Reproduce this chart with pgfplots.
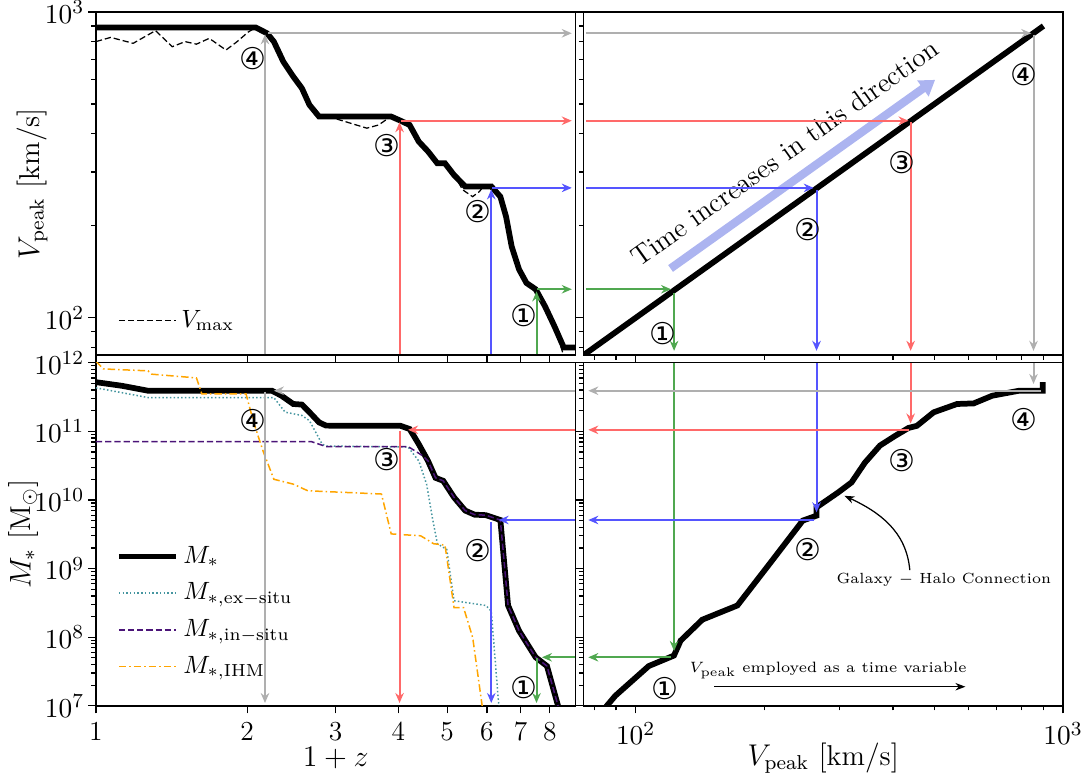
\documentclass[border=0pt]{standalone}
\usepackage{pgfplots}
\pgfplotsset{compat=1.18}
\usepackage{fontspec}
\newfontfamily\dejavu{DejaVu Sans}
\usetikzlibrary{arrows.meta}

\definecolor{agreen}{RGB}{80,168,80}
\definecolor{ared}{RGB}{255,105,105}
\definecolor{ablue}{RGB}{85,85,255}
\definecolor{agrey}{RGB}{175,175,175}
\definecolor{tarrow}{RGB}{172,180,240}
\definecolor{exsitu}{RGB}{70,150,160}
\definecolor{insitu}{RGB}{75,20,120}
\definecolor{ihm}{RGB}{255,165,0}

\pgfplotsset{
  every axis/.append style={scale only axis, width=192pt, height=137.4pt,
    tick align=outside, xtick pos=left, ytick pos=left,
    axis line style={line width=0.6pt}, tick style={black, line width=0.5pt},
    major tick length=3pt, minor tick length=1.8pt,
    label style={font=\fontsize{11.5}{13}\selectfont},
    ylabel style={at={(axis description cs:-0.133,0.5)}, anchor=center},
    xlabel style={at={(axis description cs:0.5,-0.152)}, anchor=center},
    yticklabel style={inner sep=1.5pt},
    legend cell align=left},
  every tick label/.append style={font=\fontsize{11}{12}\selectfont},
  arr/.style={line width=0.8pt, -{Stealth[length=4pt,width=3.4pt]}, forget plot},
  big/.style={black, line width=2.3pt, forget plot},
}
\tikzset{circ/.style={font=\dejavu\fontsize{12}{13}\selectfont, inner sep=0pt}}

\begin{document}
\begin{tikzpicture}
\useasboundingbox (-38.4pt,-29.2pt) rectangle (396.4pt,282.6pt);

% top left: Vpeak vs 1+z
\begin{loglogaxis}[at={(0pt,140.4pt)}, anchor=south west,
  xmin=1, xmax=9, ymin=75.5, ymax=1000,
  xtick={1,2,3,4,5,6,7,8}, xticklabels={},
  ylabel={$V_{\mathrm{peak}}\ [\mathrm{km/s}]$},
  legend image code/.code={\draw[#1] (0cm,0cm) -- (0.8cm,0cm);},
  legend style={draw=none, fill=none, at={(0.03,0.04)}, anchor=south west,
    font=\fontsize{10}{12}\selectfont}]
\addplot[black, line width=0.5pt, dash pattern=on 2.5pt off 1.2pt] coordinates {
 (1,800) (1.07,826) (1.186,790) (1.314,869) (1.419,770) (1.505,800) (1.585,785)
 (1.681,820) (1.815,751) (1.91,800) (2.01,860) (2.08,890) (2.19,852) (2.26,800)
 (2.36,688) (2.47,615) (2.57,563) (2.66,497) (2.78,455) (2.97,450) (3.46,417)
 (3.65,427) (3.84,452) (3.9,452) (4.04,441) (4.21,427) (4.39,377) (4.58,350)
 (4.78,320) (4.95,320) (5.16,293) (5.37,262) (5.62,249) (5.80,259) (5.9,269)
 (6.12,269) (6.38,249) (6.55,214) (6.72,171) (6.95,144) (7.19,130) (7.50,124)
 (7.83,109) (8.17,94) (8.6,72)};
\addlegendentry{$V_{\max}$}
\addplot[big] coordinates {
 (1,890) (2.08,890) (2.19,852) (2.26,800) (2.36,688) (2.47,615) (2.57,563)
 (2.66,497) (2.78,455) (3.87,455) (4.04,441) (4.21,427) (4.39,377) (4.58,350)
 (4.78,320) (4.95,320) (5.16,293) (5.43,269) (6.12,269) (6.38,249) (6.55,214)
 (6.72,171) (6.95,144) (7.19,130) (7.50,124) (7.83,109) (8.17,94) (8.53,80) (9.1,80)};
\addplot[arr, agrey] coordinates {(2.17,76) (2.17,845)};
\addplot[arr, agrey] coordinates {(2.2,852) (8.85,852)};
\addplot[arr, ared] coordinates {(4.02,76) (4.02,436)};
\addplot[arr, ared] coordinates {(4.05,441) (8.85,441)};
\addplot[arr, ablue] coordinates {(6.12,76) (6.12,263)};
\addplot[arr, ablue] coordinates {(6.15,266) (8.85,266)};
\addplot[arr, agreen] coordinates {(7.53,76) (7.53,122)};
\addplot[arr, agreen] coordinates {(7.56,124) (8.85,124)};
\node[circ] at (axis cs:2.05,705) {④};
\node[circ] at (axis cs:3.80,367) {③};
\node[circ] at (axis cs:5.77,223) {②};
\node[circ] at (axis cs:7.11,102) {①};
\end{loglogaxis}

% top right: Vpeak vs Vpeak
\begin{loglogaxis}[at={(195.2pt,140.4pt)}, anchor=south west,
  xmin=75.5, xmax=1000, ymin=75.5, ymax=1000,
  xticklabels={}, yticklabels={}]
\addplot[tarrow, line width=3.3pt, -{Triangle[length=6pt,width=7.5pt]}, forget plot]
  coordinates {(120.7,145) (502,600)};
\node[rotate=35.5, font=\fontsize{11}{13}\selectfont] at (axis cs:223,346) {Time increases in this direction};
\addplot[big] coordinates {(75.5,75.5) (900,900)};
\addplot[arr, agreen] coordinates {(76.5,124) (121,124)};
\addplot[arr, agreen] coordinates {(123,121) (123,78)};
\addplot[arr, ablue] coordinates {(76.5,266) (261,266)};
\addplot[arr, ablue] coordinates {(265,262) (265,78)};
\addplot[arr, ared] coordinates {(76.5,441) (435,441)};
\addplot[arr, ared] coordinates {(440,436) (440,78)};
\addplot[arr, agrey] coordinates {(76.5,852) (843,852)};
\addplot[arr, agrey] coordinates {(853,843) (853,78)};
\node[circ] at (axis cs:116,89) {①};
\node[circ] at (axis cs:253,194) {②};
\node[circ] at (axis cs:420,323) {③};
\node[circ] at (axis cs:811,622) {④};
\end{loglogaxis}

% bottom left: M* vs 1+z
\begin{loglogaxis}[at={(0pt,0pt)}, anchor=south west,
  xmin=1, xmax=9, ymin=1e7, ymax=1e12,
  xtick={1,2,3,4,5,6,7,8}, xticklabels={1,2,3,4,5,6,7,8},
  xlabel={$1+z$}, ylabel={$M_{*}\ [\mathrm{M}_{\odot}]$},
  ylabel style={at={(axis description cs:-0.152,0.5)}, anchor=center},
  legend image code/.code={\draw[#1] (0cm,0cm) -- (0.8cm,0cm);},
  legend style={draw=none, fill=none, at={(0.025,0.045)}, anchor=south west,
    font=\fontsize{10}{12}\selectfont, row sep=0pt,
    nodes={minimum height=14.7pt, inner ysep=0pt}}]
\addplot[black, line width=2.3pt] coordinates {
 (1,5.2e11) (1.127,4.6e11) (1.27,3.9e11) (2.24,3.9e11) (2.34,3.3e11) (2.47,2.5e11)
 (2.57,2.45e11) (2.66,1.9e11) (2.78,1.35e11) (2.87,1.21e11) (4.04,1.2e11)
 (4.21,1.08e11) (4.39,6.5e10) (4.58,3.7e10) (4.74,2.1e10) (4.91,1.9e10)
 (5.16,1.09e10) (5.43,7.0e9) (5.67,6.1e9) (5.97,6.0e9) (6.38,5.1e9) (6.61,2.9e8)
 (6.95,1.24e8) (7.50,5.1e7) (7.90,3.8e7) (8.31,1e7) (8.6,4e6)};
\addlegendentry{$M_{*}$}
\addplot[exsitu, line width=0.6pt, dash pattern=on 0.6pt off 0.9pt] coordinates {
 (1,4.3e11) (1.27,3.1e11) (2.26,3.1e11) (2.38,1.9e11) (2.57,1.7e11) (2.66,1.43e11)
 (2.82,6.5e10) (2.87,6.1e10) (4.18,5.9e10) (4.39,3.7e10) (4.55,1.7e10)
 (4.67,5.6e9) (4.78,2.3e9) (4.99,1.9e9) (5.16,3.4e8) (5.97,2.9e8) (6.12,2.4e8)
 (6.33,1.07e7) (6.4,5e6)};
\addlegendentry{$M_{*,\mathrm{ex-situ}}$}
\addplot[insitu, line width=0.6pt, dash pattern=on 2.5pt off 1.2pt] coordinates {
 (1,7.1e10) (2.68,7.1e10) (2.87,6.0e10) (4.18,6.0e10) (4.47,4.4e10) (4.58,3.7e10)
 (4.74,2.1e10) (4.91,1.9e10) (5.16,1.09e10) (5.43,7.0e9) (5.67,6.1e9) (5.97,6.0e9)
 (6.38,5.1e9) (6.61,2.9e8) (6.95,1.24e8) (7.50,5.1e7) (7.90,3.8e7) (8.31,1e7) (8.6,4e6)};
\addlegendentry{$M_{*,\mathrm{in-situ}}$}
\addplot[ihm, line width=0.6pt, dash pattern=on 3pt off 1.2pt on 0.6pt off 1.2pt] coordinates {
 (1,1.05e12) (1.035,8.1e11) (1.27,7.6e11) (1.29,6.8e11) (1.585,6.0e11) (1.625,3.5e11)
 (1.99,3.5e11) (2.06,1.35e11) (2.15,5.2e10) (2.26,2.0e10) (2.47,1.7e10)
 (2.64,1.36e10) (3.70,1.22e10) (3.87,3.2e9) (4.43,3.0e9) (4.70,2.3e9) (4.95,2.2e9)
 (5.16,2.7e8) (5.39,2.7e8) (5.62,9.9e7) (5.87,1e7) (5.9,8e6)};
\addlegendentry{$M_{*,\mathrm{IHM}}$}
\addplot[arr, agrey] coordinates {(8.98,3.9e11) (2.26,3.9e11)};
\addplot[arr, agrey] coordinates {(2.17,3.8e11) (2.17,1.1e7)};
\addplot[arr, ared] coordinates {(8.98,1.05e11) (4.18,1.05e11)};
\addplot[arr, ared] coordinates {(4.02,1.0e11) (4.02,1.1e7)};
\addplot[arr, ablue] coordinates {(8.98,5.1e9) (6.33,5.1e9)};
\addplot[arr, ablue] coordinates {(6.12,4.8e9) (6.12,1.1e7)};
\addplot[arr, agreen] coordinates {(8.98,5.1e7) (7.72,5.1e7)};
\addplot[arr, agreen] coordinates {(7.53,5.0e7) (7.53,1.1e7)};
\node[circ] at (axis cs:2.05,1.43e11) {④};
\node[circ] at (axis cs:3.80,3.9e10) {③};
\node[circ] at (axis cs:5.77,1.8e9) {②};
\node[circ] at (axis cs:7.11,1.85e7) {①};
\end{loglogaxis}

% bottom right: M* vs Vpeak
\begin{loglogaxis}[at={(195.2pt,0pt)}, anchor=south west,
  xmin=75.5, xmax=1000, ymin=1e7, ymax=1e12,
  yticklabels={}, xlabel={$V_{\mathrm{peak}}\ [\mathrm{km/s}]$}]
\addplot[big] coordinates {
 (82,7e6) (85.6,1e7) (89.6,1.4e7) (98,2.3e7) (107.3,3.8e7) (122.9,5.4e7)
 (127.4,8.9e7) (143.2,1.8e8) (173,2.9e8) (205.5,1.16e9) (246,5.0e9) (265,5.9e9)
 (265,7.8e9) (298,1.29e10) (320,1.8e10) (344,3.5e10) (373,6.2e10) (405,8.6e10)
 (435,1.12e11) (455,1.2e11) (498,1.89e11) (565,2.5e11) (618,2.55e11) (683,3.3e11)
 (789,3.9e11) (896,3.9e11) (896,5.2e11)};
\addplot[arr, agreen] coordinates {(123,9.8e11) (123,6.3e7)};
\addplot[arr, agreen] coordinates {(121,5.1e7) (77.5,5.1e7)};
\addplot[arr, ablue] coordinates {(265,9.8e11) (265,6.6e9)};
\addplot[arr, ablue] coordinates {(262,5.1e9) (77.5,5.1e9)};
\addplot[arr, ared] coordinates {(440,9.8e11) (440,1.3e11)};
\addplot[arr, ared] coordinates {(436,1.05e11) (77.5,1.05e11)};
\addplot[arr, agrey] coordinates {(853,9.8e11) (853,4.9e11)};
\addplot[arr, agrey] coordinates {(890,3.9e11) (77.5,3.9e11)};
\node[font=\fontsize{5.9}{7}\selectfont] at (axis cs:526,6.8e8) {Galaxy $-$ Halo Connection};
\draw[-{Stealth[length=4pt,width=3pt]}, line width=0.5pt]
  (axis cs:438,9.5e8) to[out=95,in=-25] (axis cs:308,1.15e10);
\node[font=\fontsize{6}{7}\selectfont] at (axis cs:282,3.3e7) {$V_{\mathrm{peak}}$ employed as a time variable};
\draw[-{Stealth[length=4pt,width=3pt]}, line width=0.5pt]
  (axis cs:152.6,1.9e7) -- (axis cs:591,1.9e7);
\node[circ] at (axis cs:116.8,1.8e7) {①};
\node[circ] at (axis cs:253,1.86e9) {②};
\node[circ] at (axis cs:420,3.8e10) {③};
\node[circ] at (axis cs:811,1.46e11) {④};
\end{loglogaxis}

\end{tikzpicture}
\end{document}
